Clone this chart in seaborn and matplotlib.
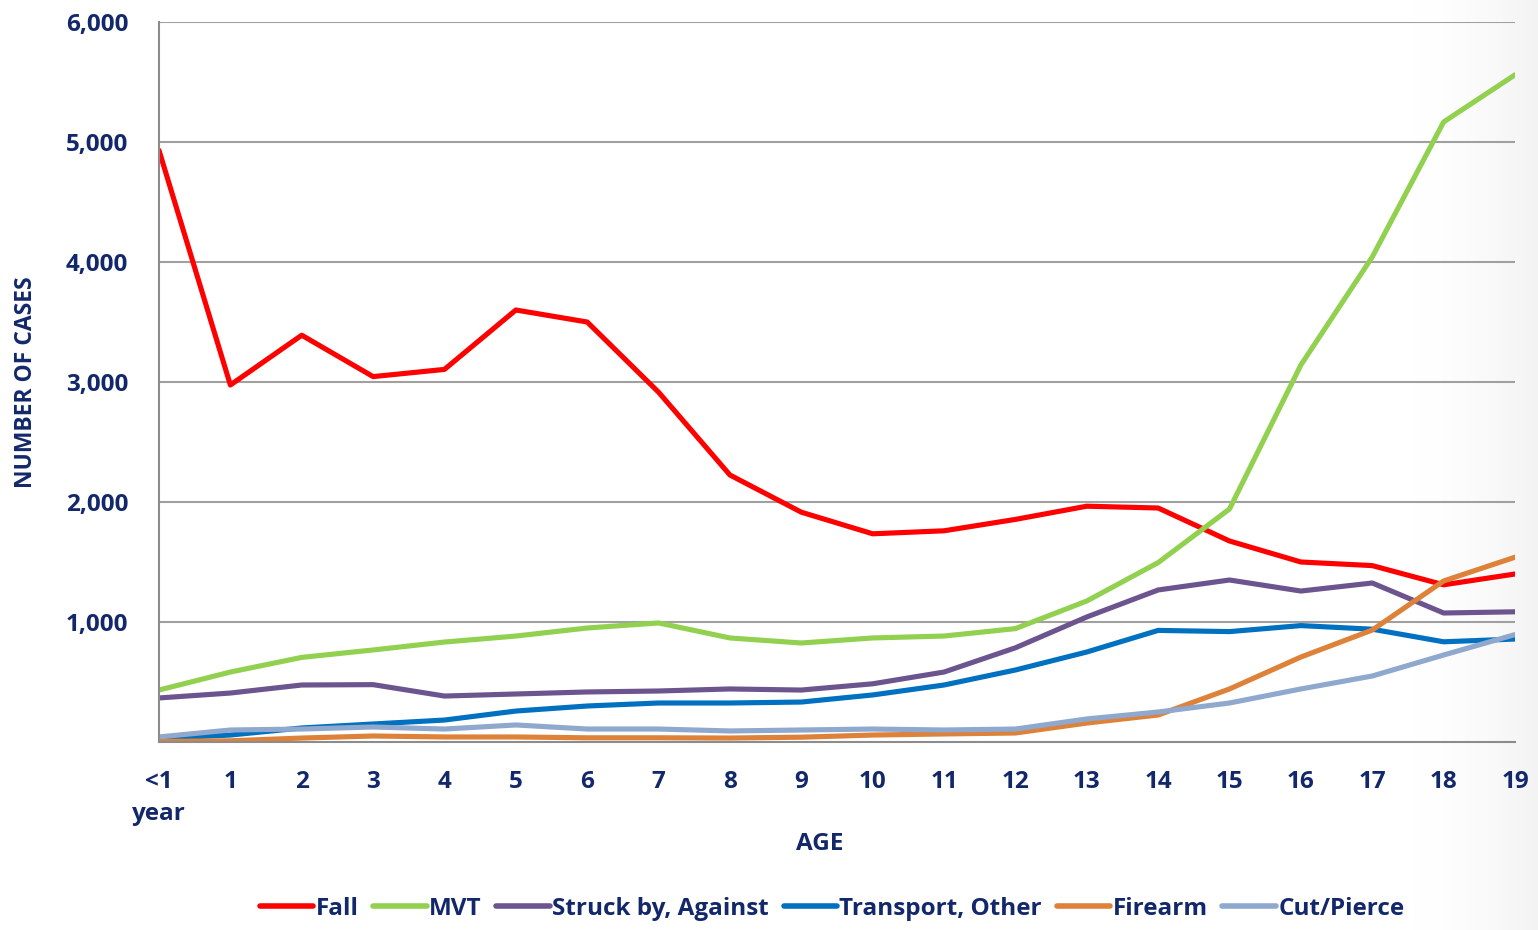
import numpy as np
import pandas as pd
import matplotlib
matplotlib.use("Agg")
import matplotlib.pyplot as plt
import seaborn as sns

ages = ["<1\nyear", "1", "2", "3", "4", "5", "6", "7", "8", "9", "10",
        "11", "12", "13", "14", "15", "16", "17", "18", "19"]
fall = [4930, 2975, 3390, 3045, 3105, 3600, 3500, 2915, 2225, 1915,
        1735, 1760, 1855, 1965, 1950, 1675, 1500, 1470, 1310, 1400]
mvt = [433, 583, 705, 767, 833, 883, 950, 992, 867, 825,
       867, 883, 945, 1175, 1495, 1942, 3142, 4042, 5167, 5560]
struck = [367, 408, 475, 478, 383, 400, 417, 425, 442, 433,
          485, 583, 785, 1042, 1267, 1350, 1258, 1325, 1075, 1085]
transport = [30, 58, 117, 150, 183, 258, 300, 325, 325, 333,
             392, 475, 600, 750, 930, 920, 970, 940, 835, 858]
firearm = [5, 10, 33, 50, 42, 42, 35, 35, 33, 40,
           58, 67, 75, 158, 225, 442, 708, 933, 1342, 1540]
cutpierce = [42, 100, 108, 125, 108, 142, 108, 108, 92, 100,
             108, 100, 108, 192, 250, 325, 442, 550, 725, 895]

series = {"Fall": fall, "MVT": mvt, "Struck by, Against": struck,
          "Transport, Other": transport, "Firearm": firearm, "Cut/Pierce": cutpierce}
colors = {"Fall": "#FF0000", "MVT": "#92D050", "Struck by, Against": "#6C548F",
          "Transport, Other": "#0070C0", "Firearm": "#DE8139", "Cut/Pierce": "#8EA8CE"}

rows = []
for name, vals in series.items():
    for i, v in enumerate(vals):
        rows.append({"pos": i, "cases": v, "type": name})
df = pd.DataFrame(rows)

sns.set_theme(style="white")
plt.rcParams['font.family'] = ['Open Sans', 'DejaVu Sans']
navy = "#13286B"
fs = 17.5

fig = plt.figure(figsize=(15.38, 9.3), dpi=100)

# subtle background gradient toward the right edge
bg = fig.add_axes([0, 0, 1, 1], zorder=-10)
gx = np.linspace(0, 1, 400)
gy = np.linspace(0, 1, 240)
GX, GY = np.meshgrid(gx, gy)
shade = np.clip((GX - 0.92) / 0.08, 0, 1) ** 1.6
img = np.ones((240, 400, 3)) - shade[..., None] * 0.045
bg.imshow(img, extent=[0, 1, 0, 1], aspect="auto")
bg.axis("off")

ax = fig.add_axes([159/1538, 1-742/930, (1515-159)/1538, (742-22)/930])
ax.set_facecolor("none")

sns.lineplot(data=df, x="pos", y="cases", hue="type", palette=colors,
             hue_order=list(series.keys()), linewidth=3.7, ax=ax, legend=True)

ax.set_xlim(0, len(ages)-1)
ax.set_ylim(0, 6000)
ax.set_yticks([1000, 2000, 3000, 4000, 5000, 6000])
ax.set_yticklabels([f"{v:,}" for v in [1000, 2000, 3000, 4000, 5000, 6000]])
ax.set_xticks(range(len(ages)))
ax.set_xticklabels(ages, linespacing=1.45, va="top")
ax.grid(axis="y", color="#A0A0A0", linewidth=1.5)
ax.set_axisbelow(True)
for s in ["top", "right"]:
    ax.spines[s].set_visible(False)
for s in ["left", "bottom"]:
    ax.spines[s].set_color("#8C8C8C")
    ax.spines[s].set_linewidth(1.5)
ax.tick_params(axis="x", direction="out", length=8, width=1.5, color="#8C8C8C",
               pad=12, labelsize=fs, labelcolor=navy)
ax.tick_params(axis="y", direction="out", length=6, width=1.5, color="#8C8C8C",
               pad=16, labelsize=fs, labelcolor=navy)
for lab in ax.get_xticklabels() + ax.get_yticklabels():
    lab.set_fontweight("bold")

ax.set_xlabel("AGE", fontsize=fs, fontweight="bold", color=navy, labelpad=2)
ax.xaxis.set_label_coords((820-159)/1356, -0.125)
ax.set_ylabel("NUMBER OF CASES", fontsize=fs-1, fontweight="bold", color=navy, labelpad=20)

handles, labels = ax.get_legend_handles_labels()
for h in handles:
    h.set_linewidth(4)
ax.legend(handles, labels, loc="center", bbox_to_anchor=(832/1538, 1-909/930),
          bbox_transform=fig.transFigure, ncol=6, frameon=False,
          prop={"size": fs, "weight": "bold"}, labelcolor=navy,
          handlelength=2.2, handletextpad=0.1, columnspacing=0.6)

fig.savefig("out.png", dpi=100)
